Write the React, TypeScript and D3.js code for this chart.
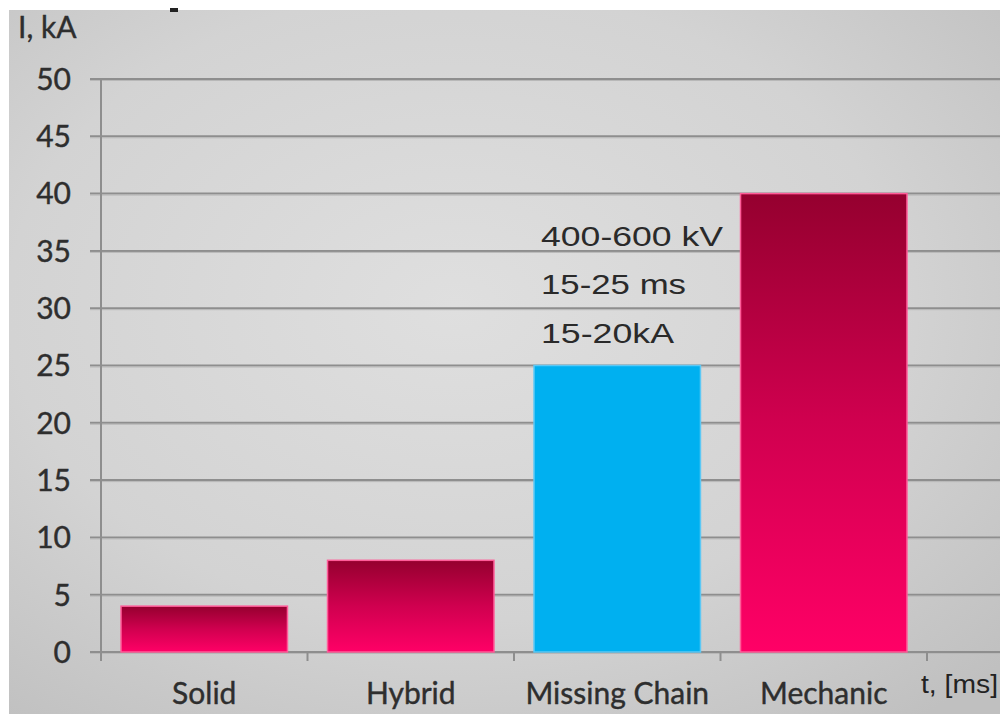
import React from "react";
import * as d3 from "d3";

const categories = ["Solid", "Hybrid", "Missing Chain", "Mechanic"];
const values = [4, 8, 25, 40];
const highlight = [false, false, true, false];
const yTicks = [0, 5, 10, 15, 20, 25, 30, 35, 40, 45, 50];
const annotationLines = ["400-600 kV", "15-25 ms", "15-20kA"];
const yAxisTitle = "I, kA";
const xAxisTitle = "t, [ms]";

const W = 1000;
const H = 714;

export default function App() {
  const x = d3
    .scaleBand<string>()
    .domain(categories)
    .range([101, 927])
    .paddingInner(0.194)
    .paddingOuter(0.097);
  const y = d3.scaleLinear().domain([0, 50]).range([652, 79]);
  const step = x.step();
  const boundaries = d3.range(categories.length + 1).map((i) => 101 + i * step);
  const labelFont = "Lato, 'Open Sans', sans-serif";
  const annotIndex = highlight.indexOf(true);
  const annotX = (x(categories[annotIndex]) as number) + 7;
  const annotTop = y(values[annotIndex]);
  const textColor = "#2e2e2e";

  return (
    <svg
      width={W}
      height={H}
      style={{ position: "absolute", left: 0, top: 0, display: "block" }}
    >
      <defs>
        <radialGradient id="bg" cx="0.45" cy="0.42" r="0.75">
          <stop offset="0" stopColor="#dfdfdf" />
          <stop offset="0.6" stopColor="#d3d3d3" />
          <stop offset="1" stopColor="#c0c0c0" />
        </radialGradient>
        <linearGradient id="barGrad" x1="0" y1="0" x2="0" y2="1">
          <stop offset="0" stopColor="#95002f" />
          <stop offset="0.5" stopColor="#d0004f" />
          <stop offset="1" stopColor="#ff0066" />
        </linearGradient>
      </defs>
      <rect x={0} y={0} width={W} height={H} fill="#ffffff" />
      <rect x={9} y={10} width={W - 9} height={H - 10} fill="url(#bg)" />
      <rect x={170} y={8} width={8} height={4} fill="#222" />

      {yTicks.map((t) => (
        <g key={t}>
          <line x1={90} x2={W} y1={y(t)} y2={y(t)} stroke="#8e8e8e" strokeWidth={2} />
          <line x1={90} x2={W} y1={y(t) + 1.5} y2={y(t) + 1.5} stroke="#b8b8b8" strokeWidth={1} />
        </g>
      ))}
      <line x1={101} x2={101} y1={y(50)} y2={y(0) + 8} stroke="#8e8e8e" strokeWidth={2} />
      {boundaries.map((b, i) => (
        <line key={i} x1={b} x2={b} y1={y(0)} y2={y(0) + 9} stroke="#8e8e8e" strokeWidth={2} />
      ))}

      {categories.map((c, i) => (
        <rect
          key={c}
          x={x(c)}
          y={y(values[i])}
          width={x.bandwidth()}
          height={y(0) - y(values[i])}
          fill={highlight[i] ? "#00b0f0" : "url(#barGrad)"}
          stroke={highlight[i] ? "#5cc8f5" : "#ff5c99"}
          strokeWidth={1.5}
        />
      ))}

      {yTicks.map((t) => (
        <text
          key={t}
          x={71}
          y={y(t)}
          dy="0.36em"
          textAnchor="end"
          fontFamily={labelFont}
          fontSize={30}
          fill={textColor}
          stroke={textColor}
          strokeWidth={0.4}
        >
          {t}
        </text>
      ))}
      {categories.map((c) => (
        <text
          key={c}
          x={(x(c) as number) + x.bandwidth() / 2}
          y={704}
          textAnchor="middle"
          fontFamily={labelFont}
          fontSize={30}
          fill={textColor}
          stroke={textColor}
          strokeWidth={0.4}
        >
          {c}
        </text>
      ))}
      <text x={18} y={38} fontFamily={labelFont} fontSize={30} fill={textColor} stroke={textColor} strokeWidth={0.4}>
        {yAxisTitle}
      </text>
      <text
        x={921}
        y={693}
        fontFamily="'Liberation Sans', Arial, sans-serif"
        fontSize={25}
        fill="#222"
        textLength={77}
        lengthAdjust="spacingAndGlyphs"
      >
        {xAxisTitle}
      </text>

      {annotationLines.map((l, i) => (
        <text
          key={l}
          x={annotX}
          y={annotTop - 120 + i * 48.5}
          fontFamily="'Liberation Sans', Arial, sans-serif"
          fontSize={27}
          fill="#2a2a2a"
          textLength={[182, 145, 133][i]}
          lengthAdjust="spacingAndGlyphs"
        >
          {l}
        </text>
      ))}
    </svg>
  );
}
